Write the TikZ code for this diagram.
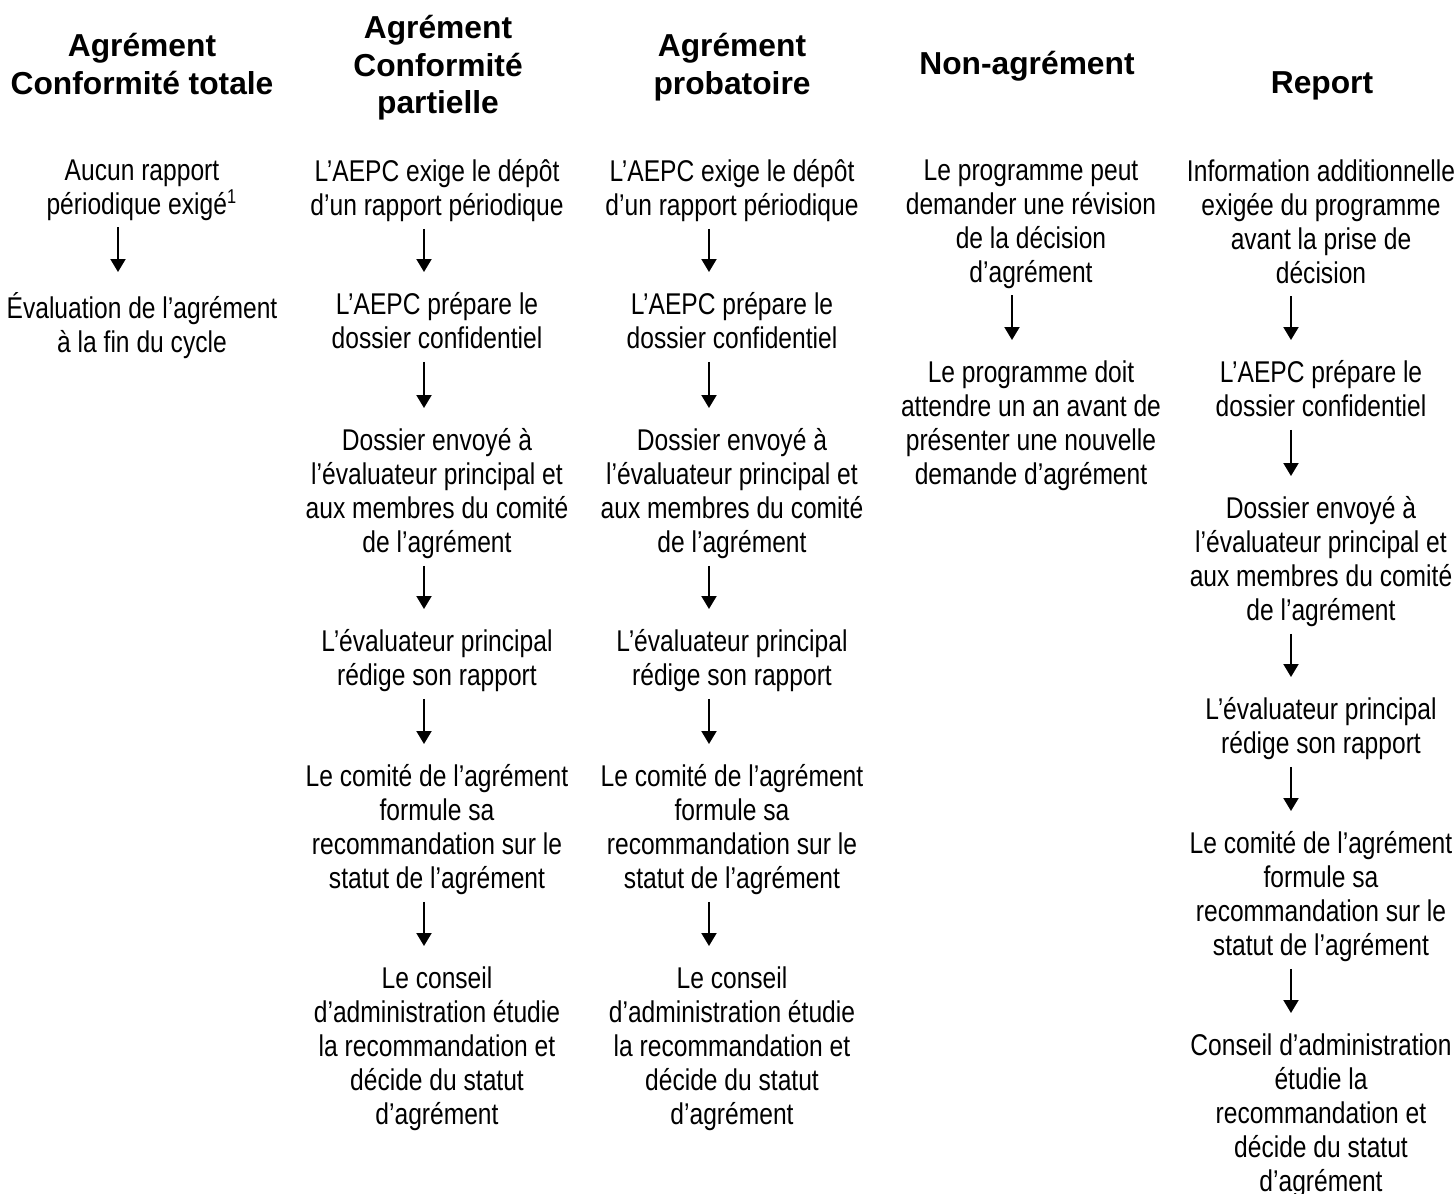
\documentclass[tikz,border=0pt]{standalone}
\usepackage{fontspec}
\setmainfont{Liberation Sans}
\newfontfamily\narrowfont[FakeStretch=0.82]{Liberation Sans}
\usetikzlibrary{arrows.meta}
\tikzset{
  head/.style={anchor=north, align=center, inner sep=0pt,
    font=\fontsize{12.7}{14.9}\selectfont\bfseries,
    execute at begin node=\strut},
  body/.style={anchor=north, align=center, inner sep=0pt,
    font=\narrowfont\fontsize{12}{13.6}\selectfont,
    execute at begin node=\strut, execute at end node=\strut},
  flow/.style={-{Triangle[length=5.2pt,width=6pt]}, line width=0.8pt,
    shorten <=1pt, shorten >=8pt},
}
\begin{document}
\begin{tikzpicture}[x=0.4pt,y=-0.4pt]
\useasboundingbox (0,0) rectangle (1455,1194);
\node[head] (h1) at (142,33) {Agrément\\Conformité totale};
\node[head] (h2) at (438,15) {Agrément\\Conformité\\partielle};
\node[head] (h3) at (732,33) {Agrément\\probatoire};
\node[head] (h4) at (1027,48) {Non-agrément};
\node[head] (h5) at (1322,67) {Report};
\node[body] (a1) at (142,159) {Aucun rapport\\périodique exigé\textsuperscript{1}};
\node[body] (a2) at (142,292) {Évaluation de l’agrément\\à la fin du cycle};
\node[body] (b1) at (437,159) {L’AEPC exige le dépôt\\d’un rapport périodique};
\node[body] (b2) at (437,292) {L’AEPC prépare le\\dossier confidentiel};
\node[body] (b3) at (437,428) {Dossier envoyé à\\l’évaluateur principal et\\aux membres du comité\\de l’agrément};
\node[body] (b4) at (437,629) {L’évaluateur principal\\rédige son rapport};
\node[body] (b5) at (437,764) {Le comité de l’agrément\\formule sa\\recommandation sur le\\statut de l’agrément};
\node[body] (b6) at (437,966) {Le conseil\\d’administration étudie\\la recommandation et\\décide du statut\\d’agrément};
\node[body] (c1) at (732,159) {L’AEPC exige le dépôt\\d’un rapport périodique};
\node[body] (c2) at (732,292) {L’AEPC prépare le\\dossier confidentiel};
\node[body] (c3) at (732,428) {Dossier envoyé à\\l’évaluateur principal et\\aux membres du comité\\de l’agrément};
\node[body] (c4) at (732,629) {L’évaluateur principal\\rédige son rapport};
\node[body] (c5) at (732,764) {Le comité de l’agrément\\formule sa\\recommandation sur le\\statut de l’agrément};
\node[body] (c6) at (732,966) {Le conseil\\d’administration étudie\\la recommandation et\\décide du statut\\d’agrément};
\node[body] (d1) at (1031,159) {Le programme peut\\demander une révision\\de la décision\\d’agrément};
\node[body] (d2) at (1031,360) {Le programme doit\\attendre un an avant de\\présenter une nouvelle\\demande d’agrément};
\node[body] (e1) at (1321,159) {Information additionnelle\\exigée du programme\\avant la prise de\\décision};
\node[body] (e2) at (1321,360) {L’AEPC prépare le\\dossier confidentiel};
\node[body] (e3) at (1321,496) {Dossier envoyé à\\l’évaluateur principal et\\aux membres du comité\\de l’agrément};
\node[body] (e4) at (1321,697) {L’évaluateur principal\\rédige son rapport};
\node[body] (e5) at (1321,831) {Le comité de l’agrément\\formule sa\\recommandation sur le\\statut de l’agrément};
\node[body] (e6) at (1321,1033) {Conseil d’administration\\étudie la\\recommandation et\\décide du statut\\d’agrément};
\draw [flow] ([xshift=-9.6pt]a1.south) -- ([xshift=-9.6pt]a2.north);
\draw [flow] ([xshift=-5.2pt]b1.south) -- ([xshift=-5.2pt]b2.north);
\draw [flow] ([xshift=-5.2pt]b2.south) -- ([xshift=-5.2pt]b3.north);
\draw [flow] ([xshift=-5.2pt]b3.south) -- ([xshift=-5.2pt]b4.north);
\draw [flow] ([xshift=-5.2pt]b4.south) -- ([xshift=-5.2pt]b5.north);
\draw [flow] ([xshift=-5.2pt]b5.south) -- ([xshift=-5.2pt]b6.north);
\draw [flow] ([xshift=-9.2pt]c1.south) -- ([xshift=-9.2pt]c2.north);
\draw [flow] ([xshift=-9.2pt]c2.south) -- ([xshift=-9.2pt]c3.north);
\draw [flow] ([xshift=-9.2pt]c3.south) -- ([xshift=-9.2pt]c4.north);
\draw [flow] ([xshift=-9.2pt]c4.south) -- ([xshift=-9.2pt]c5.north);
\draw [flow] ([xshift=-9.2pt]c5.south) -- ([xshift=-9.2pt]c6.north);
\draw [flow] ([xshift=-7.6pt]d1.south) -- ([xshift=-7.6pt]d2.north);
\draw [flow] ([xshift=-12pt]e1.south) -- ([xshift=-12pt]e2.north);
\draw [flow] ([xshift=-12pt]e2.south) -- ([xshift=-12pt]e3.north);
\draw [flow] ([xshift=-12pt]e3.south) -- ([xshift=-12pt]e4.north);
\draw [flow] ([xshift=-12pt]e4.south) -- ([xshift=-12pt]e5.north);
\draw [flow] ([xshift=-12pt]e5.south) -- ([xshift=-12pt]e6.north);
\end{tikzpicture}
\end{document}
